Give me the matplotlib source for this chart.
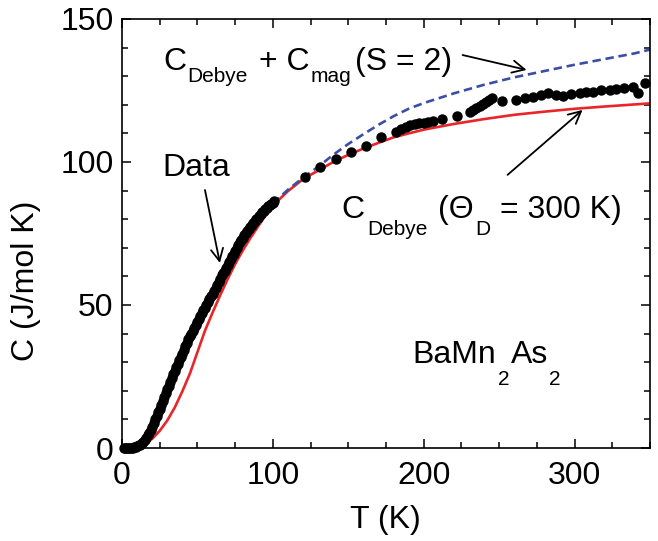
import matplotlib
matplotlib.use('Agg')
import matplotlib.pyplot as plt
from matplotlib.ticker import MultipleLocator

plt.rcParams['font.family'] = ['Liberation Sans', 'DejaVu Sans']

# Measured heat capacity of BaMn2As2 (1 K steps up to 100 K, sparser above)
T_data = list(range(1, 101)) + [
    101, 121, 131, 142, 151.6, 161.6, 171.5, 181.5, 185, 188, 191, 194, 197, 200, 203, 206,
    212, 222, 231, 233, 235, 237, 239, 241, 243, 245, 252,
    261.4, 266.9, 272.4, 277.9, 282.3, 287.9, 292.3, 297.8, 303.3, 307.7, 312.1,
    317.7, 323.2, 327.6, 333.1, 338.6, 341.9, 347]
C_data = [
    0, 0, 0, 0, 0, 0, 0.1, 0.2, 0.4, 0.6,
    0.9, 1.2, 1.7, 2.2, 2.9, 3.6, 4.5, 5.4, 6.4, 7.5,
    8.7, 10, 11.2, 12.5, 13.7, 15, 16.4, 17.8, 19.1, 20.5,
    21.7, 23, 24.4, 25.8, 27, 28.3, 29.5, 30.8, 31.9, 33,
    34.3, 35.5, 36.8, 38, 39, 40, 41, 42, 43, 44,
    45, 46, 47.1, 48.2, 49.1, 50, 51, 52, 53, 54,
    55, 56, 57, 58, 59.2, 60.5, 61.2, 62, 63, 64,
    65, 66, 67, 68, 69, 70, 71, 72, 72.8, 73.5,
    74.3, 75, 75.8, 76.5, 77.3, 78, 78.7, 79.3, 79.9, 80.5,
    81.2, 81.8, 82.4, 83, 83.5, 84, 84.5, 85, 85.4, 85.7,
    86.3, 94.8, 98.3, 101, 103.5, 105.6, 108.7, 110.5, 111.5, 112.3, 113, 113.3, 113.6, 113.8, 114.0, 114.4,
    115, 116, 117.5, 118.2, 119, 119.7, 120.3, 121, 121.7, 122.3, 121.2,
    121.7, 122.3, 122.8, 123.4, 124.0, 123.4, 123.1, 123.8, 124.2, 124.6, 124.6,
    125.2, 125.0, 125.4, 125.8, 126.3, 124.0, 127.7]

# Debye model, Theta_D = 300 K
T_debye = [0, 5, 10, 15, 20, 25, 30, 35, 40, 45, 50, 55, 60, 65, 70, 75, 80, 85, 90, 95,
           100, 110, 120, 130, 140, 150, 160, 170, 180, 190, 200, 220, 240, 260, 280, 300, 320, 350]
C_debye = [0, 0.05, 0.4, 1.4, 3.2, 6, 9.6, 14.2, 19.8, 26, 33.5, 41, 47.3, 53.3, 59, 64.3, 69, 73.3, 77.3, 81.2,
           84.8, 89.8, 94, 97, 100, 102.5, 104.7, 106.7, 108.6, 110, 111.3, 113.3, 115, 116.5, 117.6, 118.6, 119.4, 120.5]

# Debye + magnetic contribution (S = 2)
T_mag = [100, 110, 120, 130, 140, 150, 160, 170, 180, 190, 200, 220, 240, 260, 280, 300, 320, 340, 350]
C_mag = [85.5, 90.3, 94.5, 98.3, 102.5, 106.3, 109.7, 113, 116, 118.6, 120.6, 124, 127, 129.6, 131.8, 134, 136, 138, 139.3]

FS = 23
SUB = 15


def rich_text(ax, x, y, parts):
    # first piece at (x, y) baseline, following pieces chained to the right
    prev = ax.text(x, y, parts[0][0], fontsize=parts[0][3], va='baseline', ha='left')
    for s, gap, drop, fs in parts[1:]:
        prev = ax.annotate(s, xy=(1, y), xycoords=(prev, 'data'), xytext=(gap, -drop),
                           textcoords='offset points', fontsize=fs, va='baseline', ha='left')


fig = plt.figure(figsize=(6.58, 5.41), dpi=100)
ax = fig.add_axes([0.1854, 0.1719, 0.8024, 0.793])

ax.plot(T_debye, C_debye, color='#e8262a', lw=1.9, zorder=2)
ax.plot(T_mag, C_mag, color='#3b4ea3', lw=1.9, ls=(0, (3.2, 1.8)), zorder=2)
ax.plot(T_data, C_data, 'o', color='black', ms=6.5, zorder=3, clip_on=False)

ax.set_xlim(0, 350)
ax.set_ylim(0, 150)
ax.xaxis.set_major_locator(MultipleLocator(100))
ax.xaxis.set_minor_locator(MultipleLocator(25))
ax.yaxis.set_major_locator(MultipleLocator(50))
ax.yaxis.set_minor_locator(MultipleLocator(10))
ax.tick_params(which='both', direction='in', top=True, right=True, width=1.1, labelsize=FS)
ax.tick_params(axis='x', pad=9)
ax.tick_params(axis='y', pad=6)
ax.tick_params(which='major', length=6.5)
ax.tick_params(which='minor', length=4)
for sp in ax.spines.values():
    sp.set_linewidth(1.2)

ax.set_xlabel('T (K)', fontsize=FS)
ax.set_ylabel('C (J/mol K)', fontsize=FS)
ax.xaxis.set_label_coords(0.498, -0.133)
ax.yaxis.set_label_coords(-0.153, 0.39)

# labels
rich_text(ax, 27.2, 132.2, [('C', 0, 0, FS), ('Debye', 1, 9, SUB), ('+ C', 8, 0, FS),
                            ('mag', 1, 9, SUB), ('(S = 2)', 2, 0, FS)])
ax.text(26.5, 95.1, 'Data', fontsize=FS, va='baseline', ha='left')
rich_text(ax, 145.7, 80.4, [('C', 0, 0, FS), ('Debye', 2, 12, SUB), ('(\u0398', 7, 0, FS),
                            ('D', 1, 12, SUB), ('= 300 K)', 7, 0, FS)])
rich_text(ax, 192.7, 29.7, [('BaMn', 0, 0, FS), ('2', 1, 16, SUB), ('As', 1, 0, FS), ('2', 1, 16, SUB)])

arrow = dict(arrowstyle='->', color='black', lw=1.3, mutation_scale=22, shrinkA=0, shrinkB=0)
ax.annotate('', xy=(268.2, 132.2), xytext=(225.8, 137.4), arrowprops=arrow)
ax.annotate('', xy=(64.9, 64.7), xytext=(55, 90.2), arrowprops=arrow)
ax.annotate('', xy=(305.3, 118.2), xytext=(255.6, 95.5), arrowprops=arrow)

fig.savefig('out.png', dpi=100)
